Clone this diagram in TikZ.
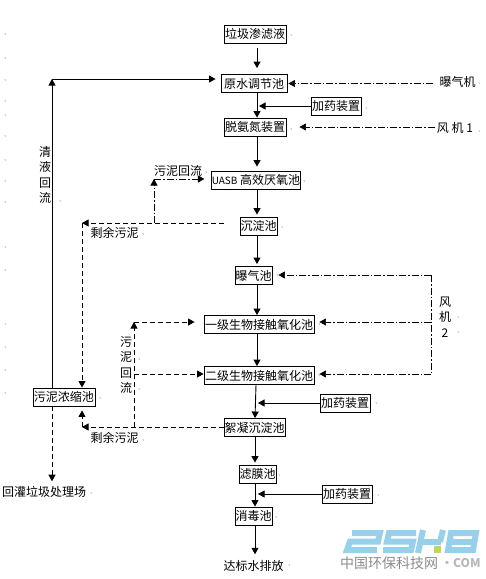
\documentclass[tikz,border=0pt]{standalone}
\usepackage{fontspec}
\setmainfont{Noto Sans CJK SC}
\usetikzlibrary{arrows.meta,calc}

\tikzset{
	pbox/.style={draw, line width=0.9pt, inner sep=0pt, minimum height=18pt, font=\fontsize{12}{14}\selectfont},
	lbl/.style={inner sep=0pt, align=center, font=\fontsize{12}{15.5}\selectfont},
	flow/.style={->, line width=0.9pt},
	slud/.style={line width=0.8pt, dash pattern=on 5pt off 3pt},
	airl/.style={line width=0.7pt, dash pattern=on 7pt off 2pt on 1.5pt off 2pt},
	strokemark/.style={inner sep=0pt, text=black!55, font=\fontsize{5}{5}\selectfont},
}
\definecolor{logoblue}{RGB}{150,208,234}
\definecolor{logogreen}{RGB}{190,215,90}

\begin{document}
\begin{tikzpicture}[x=1pt, y=-1pt, >={Stealth[inset=0pt,length=6.5pt,width=7pt]}]
	\useasboundingbox (0,0) rectangle (486,579);
	% main train
	\node[pbox, minimum width=62pt] (lj) at (255,34) {垃圾渗滤液};
	\node[pbox, minimum width=66pt] (ys) at (254,83.5) {原水调节池};
	\node[pbox, minimum width=50pt] (jy1) at (336,106) {加药装置};
	\node[pbox, minimum width=62pt] (td) at (255,127) {脱氨氮装置};
	\node[pbox, minimum width=88pt] (uasb) at (256,180) {{\fontsize{10}{14}\selectfont UASB} 高效厌氧池};
	\node[pbox, minimum width=37pt] (cd) at (258.5,226) {沉淀池};
	\node[pbox, minimum width=37pt] (bq) at (253.5,275.5) {曝气池};
	\node[pbox, minimum width=110pt] (yj) at (259,324.5) {一级生物接触氧化池};
	\node[pbox, minimum width=110pt] (ej) at (259,375.5) {二级生物接触氧化池};
	\node[pbox, minimum width=62pt] (wn) at (64,397) {污泥浓缩池};
	\node[pbox, minimum width=61pt] (xn) at (254.5,427.5) {絮凝沉淀池};
	\node[pbox, minimum width=50pt] (jy2) at (345,403) {加药装置};
	\node[pbox, minimum width=37pt] (lm) at (257.5,474) {滤膜池};
	\node[pbox, minimum width=50pt] (jy3) at (347,494) {加药装置};
	\node[pbox, minimum width=37pt] (xd) at (253.5,516) {消毒池};
	% labels
	\node[lbl] (bqj) at (457.5,82) {曝气机};
	\node[lbl] (fj1) at (455,128) {风 机 1};
	\node[lbl] (qyhl) at (45,175) {清\\液\\回\\流};
	\node[lbl] (wnhl1) at (178,171) {污泥回流};
	\node[lbl] (sy1) at (114.5,233) {剩余污泥};
	\node[lbl] (wnhl2) at (126,365) {污\\泥\\回\\流};
	\node[lbl] (fj2) at (445,317) {风\\机\\2};
	\node[lbl] (sy2) at (114.5,438) {剩余污泥};
	\node[lbl] (hg) at (44,492) {回灌垃圾处理场};
	\node[lbl] (db) at (253.5,566) {达标水排放};
	% corners and trunks
	\coordinate (tkA) at (257,0);
	\coordinate (tkB) at (255,0);
	\coordinate (cQy) at (52,79);
	\coordinate (cSa) at (82,223);
	\coordinate (cBr) at (154,223);
	\coordinate (cUb) at (154,179);
	\coordinate (cSb) at (82,427);
	\coordinate (cHa) at (134,427);
	\coordinate (cHb) at (134,374);
	\coordinate (cHc) at (134,322);
	\coordinate (cFa) at (431,275);
	\coordinate (cFb) at (431,322);
	\coordinate (cFc) at (431,374);
	% water line
	\draw[flow, shorten <=5pt, shorten >=6pt] (lj.south -| tkA) -- (ys.north -| tkA);
	\draw[flow] (ys.south -| tkA) -- (td.north -| tkA);
	\draw[flow, shorten >=2pt] (jy1.west) -- (jy1.west -| tkA);
	\draw[flow, shorten >=4pt] (td.south -| tkA) -- (uasb.north -| tkA);
	\draw[flow, shorten >=2pt] (uasb.south -| tkA) -- (cd.north -| tkA);
	\draw[flow, shorten >=2pt] (cd.south -| tkA) -- (bq.north -| tkA);
	\draw[flow] (bq.south -| tkA) -- (yj.north -| tkA);
	\draw[flow] (yj.south -| tkA) -- (ej.north -| tkA);
	\draw[flow] (ej.south -| tkA) ++(-1,0) -- (xn.north -| tkB);
	\draw[flow, shorten >=2pt] (xn.south -| tkB) -- (lm.north -| tkB);
	\draw[flow] (lm.south -| tkB) -- (xd.north -| tkB);
	\draw[flow] (xd.south -| tkB) -- ($(db.north -| tkB)+(0,-6)$);
	\draw[flow, shorten >=1pt] (jy2.west) -- (jy2.west -| tkA);
	\draw[flow, shorten >=1pt] (jy3.west) -- (jy3.west -| tkA);
	% clear liquid return
	\draw[flow] (wn.north -| cQy) -- (cQy);
	\draw[flow, shorten >=5pt] (cQy) -- (ys.west |- cQy);
	% sludge
	\draw[slud, ->, shorten <=16pt] (cd.west |- cSa) -- (cSa);
	\draw[slud, ->] (cSa) -- (wn.north -| cSa);
	\draw[airl, ->] (cBr) -- (cUb);
	\draw[airl, ->, shorten >=7pt] (cUb) -- (uasb.west |- cUb);
	\draw[slud, ->] (xn.west |- cSb) -- (cSb);
	\draw[slud, ->, shorten >=4pt] (cSb) -- (wn.south -| cSb);
	\draw[slud, ->] (cHa) -- (cHc);
	\draw[slud, ->, shorten >=9pt] (cHc) -- (yj.west |- cHc);
	\draw[slud, ->] (cHb) -- (ej.west |- cHb);
	\draw[slud, ->, shorten >=5pt] (wn.south -| cQy) -- (hg.north -| cQy);
	% air
	\draw[airl, ->, shorten <=6pt, shorten >=1pt] (bqj.west |- ys.east) -- (ys.east);
	\draw[airl, ->, shorten <=2pt, shorten >=13pt] (fj1.west |- td.east) -- (td.east);
	\draw[airl, ->, shorten >=6pt] (cFa) -- (bq.east |- cFa);
	\draw[airl] (cFa) -- (cFc);
	\draw[airl, ->, shorten >=5pt] (cFb) -- (yj.east |- cFb);
	\draw[airl, ->, shorten >=5pt] (cFc) -- (ej.east |- cFc);
	% stray marks
	\foreach \mx/\my in {5/35,5/59,5/81,5/102,5/116,5/137,5/161,5/182,5/203,5/248,5/271,5/325,5/348,5/371,5/394,
		60/202,206/173,143/235,291/36,292/84,366/109,291/130,479/84,479/132,304/182,282/228,277/276,
		100/399,139/360,139/390,143/441,91/494,319/325,319/376,376/404,378/496,289/566,279/476,276/518,458/318,458/333}
		\node[strokemark] (m\mx-\my) at (\mx,\my) {.,};
	% watermark
	\begin{scope}[line width=6pt, logoblue, line join=miter]
		\draw (352,533) -- (380,533) -- (378,541.5) -- (350,541.5) -- (347,550) -- (377,550);
		\draw (416,533) -- (389,533) -- (387,541.5) -- (413,541.5) -- (411,550) -- (383,550);
		\draw (423,530) -- (418,553);
		\draw (443,530) -- (440,542);
		\draw (420,541.5) -- (441,541.5);
		\draw (451,533) -- (476,533) -- (473,550) -- (448,550) -- cycle;
		\draw (450,541.5) -- (474,541.5);
	\end{scope}
	\fill[logogreen] (434,546) rectangle (441,553);
	\node[inner sep=0pt, text=black!45, font=\fontsize{14}{14}\selectfont] (wmcn) at (389,563) {中国环保科技网};
	\node[inner sep=0pt, text=black!28, font=\fontsize{12}{12}\selectfont\bfseries, anchor=west] (wmen) at (441,563) {·COM};
\end{tikzpicture}
\end{document}
